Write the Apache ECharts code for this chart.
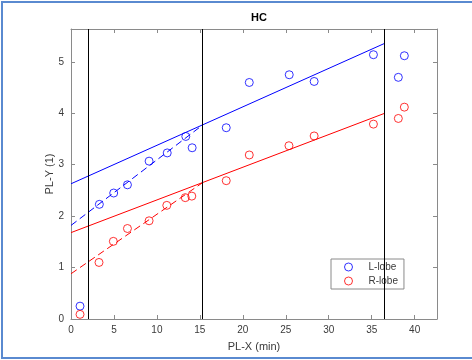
<!DOCTYPE html>
<html><head><meta charset="utf-8">
<script src="https://cdn.jsdelivr.net/npm/echarts@6/dist/echarts.min.js"></script>
<style>html,body{margin:0;padding:0;background:#fff}#c{width:472px;height:360px}</style>
</head><body><div id="c"></div>
<script>
var titleText = 'HC';
var xName = 'PL-X (min)';
var yName = 'PL-Y (1)';
var seriesNames = ['L-lobe', 'R-lobe'];
var xRange = [0, 42.6];
var yRange = [0, 5.64];
var boundaryX = [2, 15.3, 36.5];

var lX = [1.05, 3.3, 4.97, 6.57, 9.09, 11.2, 13.36, 14.1, 18.07, 20.75, 25.4, 28.3, 35.2, 38.1, 38.8];
var lY = [0.25, 2.23, 2.45, 2.61, 3.07, 3.23, 3.55, 3.33, 3.72, 4.60, 4.75, 4.62, 5.14, 4.70, 5.12];
var rX = [1.05, 3.26, 4.93, 6.57, 9.09, 11.15, 13.3, 14.06, 18.07, 20.75, 25.37, 28.3, 35.2, 38.1, 38.8];
var rY = [0.09, 1.10, 1.51, 1.76, 1.91, 2.21, 2.36, 2.39, 2.69, 3.19, 3.37, 3.56, 3.79, 3.90, 4.12];

// fitted lines: [x0, y0, x1, y1]
var lFitLate = [0, 2.63, 36.5, 5.36];
var lFitEarly = [0, 1.82, 15.3, 3.77];
var rFitLate = [0, 1.68, 36.5, 4.00];
var rFitEarly = [0, 0.88, 15.3, 2.65];

function pts(xs, ys) { return xs.map(function (x, i) { return [x, ys[i]]; }); }
function seg(a) { return [[a[0], a[1]], [a[2], a[3]]]; }

var BLUE = '#0000ff', RED = '#ff0000', AX = '#8a8a8a', TXT = '#3a3a3a';
var FONT = '"Liberation Sans", Arial, sans-serif';

function lineSeries(a, color, dashed) {
  return {
    type: 'line', data: seg(a), symbol: 'none', silent: true, z: 3,
    lineStyle: { color: color, width: 1, type: dashed ? [7, 4] : 'solid' }
  };
}

var chart = echarts.init(document.getElementById('c'), null, { renderer: 'canvas' });
var grid = { left: 71, top: 29, width: 366, height: 290 };
var commonX = {
  type: 'value', min: xRange[0], max: xRange[1], interval: 5,
  axisLine: { show: true, onZero: false, lineStyle: { color: AX, width: 1 } },
  axisTick: { show: true, inside: true, length: 4, lineStyle: { color: AX } },
  splitLine: { show: false }
};
var commonY = {
  type: 'value', min: yRange[0], max: yRange[1], interval: 1,
  axisLine: { show: true, onZero: false, lineStyle: { color: AX, width: 1 } },
  axisTick: { show: true, inside: true, length: 4, lineStyle: { color: AX } },
  splitLine: { show: false }
};

chart.setOption({
  animation: false,
  backgroundColor: '#ffffff',
  textStyle: { fontFamily: FONT },
  title: {
    text: titleText, left: 254, top: 7, textAlign: 'center',
    textStyle: { fontSize: 11, fontWeight: 'bold', color: '#000', fontFamily: FONT }
  },
  grid: grid,
  xAxis: [
    Object.assign({}, commonX, {
      position: 'bottom',
      name: xName, nameLocation: 'middle', nameGap: 22,
      nameTextStyle: { fontSize: 11, color: TXT, fontFamily: FONT },
      axisLabel: { show: true, fontSize: 10, color: TXT, margin: 6, showMaxLabel: false, fontFamily: FONT }
    }),
    Object.assign({}, commonX, { position: 'top', axisLabel: { show: false } })
  ],
  yAxis: [
    Object.assign({}, commonY, {
      position: 'left',
      name: yName, nameLocation: 'middle', nameGap: 16, nameMoveOverlap: false,
      nameTextStyle: { fontSize: 11, color: TXT, fontFamily: FONT },
      axisLabel: { show: true, fontSize: 10, color: TXT, margin: 7, showMaxLabel: false, fontFamily: FONT }
    }),
    Object.assign({}, commonY, { position: 'right', axisLabel: { show: false } })
  ],
  legend: {
    data: seriesNames, orient: 'vertical', left: 331, top: 259,
    backgroundColor: '#fff', borderColor: AX, borderWidth: 1, borderRadius: 0,
    padding: [3, 6, 3, 13], itemGap: 4, itemWidth: 8, itemHeight: 8,
    icon: 'circle',
    itemStyle: { color: 'rgba(255,255,255,0)', borderWidth: 1 },
    textStyle: { fontSize: 10, color: TXT, padding: [0, 0, 0, 11], fontFamily: FONT }
  },
  graphic: [{
    type: 'rect', shape: { x: 2, y: 2, width: 490, height: 356 },
    style: { fill: 'none', stroke: '#5a8ad0', lineWidth: 2 }, silent: true, z: 100
  }],
  series: [
    {
      name: seriesNames[0], type: 'scatter', data: pts(lX, lY), symbol: 'circle', symbolSize: 8, z: 4,
      itemStyle: { color: 'rgba(255,255,255,0)', borderColor: BLUE, borderWidth: 1 }
    },
    {
      name: seriesNames[1], type: 'scatter', data: pts(rX, rY), symbol: 'circle', symbolSize: 8, z: 4,
      itemStyle: { color: 'rgba(255,255,255,0)', borderColor: RED, borderWidth: 1 }
    },
    lineSeries(lFitLate, BLUE, false),
    lineSeries(lFitEarly, BLUE, true),
    lineSeries(rFitLate, RED, false),
    lineSeries(rFitEarly, RED, true),
    {
      type: 'line', data: [], silent: true,
      markLine: {
        symbol: ['none', 'none'], silent: true, label: { show: false },
        lineStyle: { color: '#000', width: 1, type: 'solid' },
        data: boundaryX.map(function (x) { return { xAxis: x }; })
      }
    }
  ]
});
</script></body></html>
